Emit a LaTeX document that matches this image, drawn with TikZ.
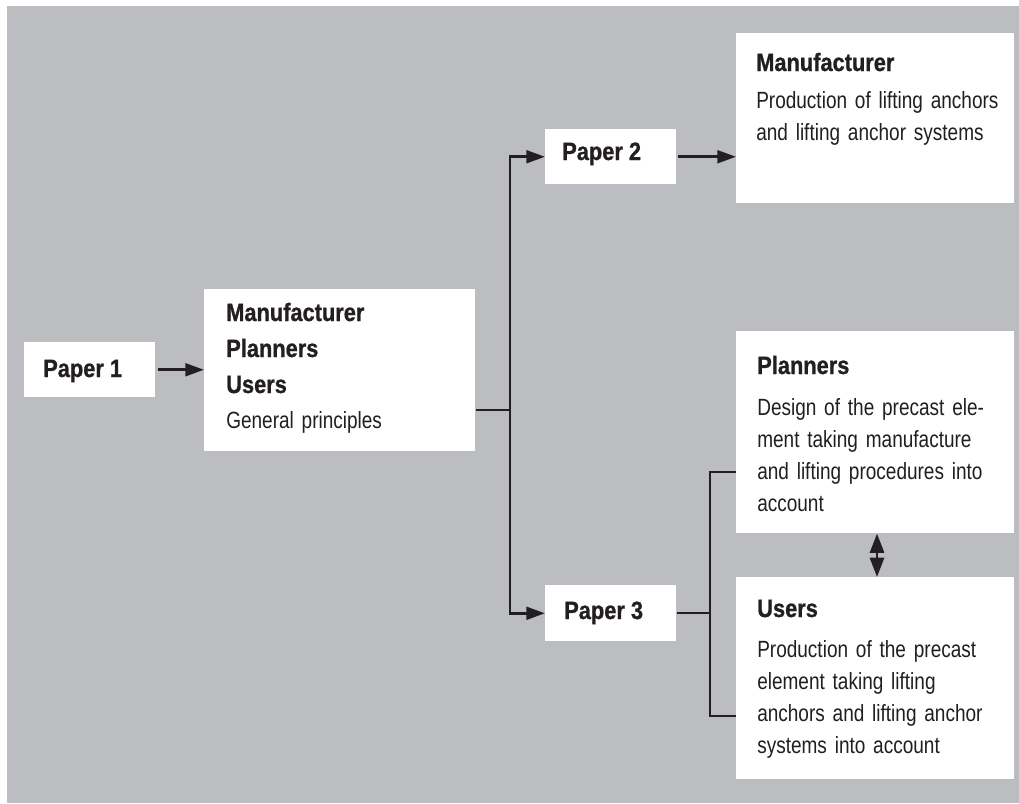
\documentclass[tikz,border=0pt]{standalone}
\usepackage{fontspec}
\setmainfont{Liberation Sans}
\newfontfamily\hdfont{Liberation Sans}[FakeStretch=0.87, BoldFeatures={FakeBold=0.9}]
\newfontfamily\bdfont{Liberation Sans}[FakeStretch=0.81]
\usetikzlibrary{arrows.meta}
\definecolor{bg}{HTML}{BCBDC1}
\definecolor{ink}{HTML}{231F20}
\tikzset{
  box/.style={fill=white, draw=none, inner sep=0pt, anchor=north west},
  hd/.style={anchor=base west, inner sep=0pt, text=ink, font=\hdfont\bfseries\fontsize{18.8}{27}\selectfont},
  bd/.style={anchor=base west, inner sep=0pt, text=ink, font=\bdfont\fontsize{17.6}{24}\selectfont, text width=205pt, align=left},
  conn/.style={draw=ink, line width=2.2pt},
  arr/.style={conn, -{Triangle[length=14pt,width=9.5pt]}},
  dbl/.style={conn, {Triangle[length=14.5pt,width=10.5pt]}-{Triangle[length=14.5pt,width=10.5pt]}},
}
\begin{document}
\begin{tikzpicture}[x=0.75pt, y=-0.75pt]
\useasboundingbox (0,0) rectangle (1019,803);
\fill[bg] (7,6) rectangle (1019,803);

% boxes
\node[box, minimum width=98.25pt, minimum height=41.25pt] (p1) at (24,342) {};
\node[box, minimum width=203.25pt, minimum height=121.5pt] (c) at (204,289) {};
\node[box, minimum width=98.25pt, minimum height=41.25pt] (p2) at (545,129) {};
\node[box, minimum width=98.25pt, minimum height=42pt] (p3) at (545,585) {};
\node[box, minimum width=208.5pt, minimum height=127.5pt] (m) at (736,33) {};
\node[box, minimum width=208.5pt, minimum height=151.5pt] (pl) at (736,331) {};
\node[box, minimum width=208.5pt, minimum height=151.5pt] (us) at (736,577) {};

% texts
\node[hd] (p1t) at (43,377) {Paper 1};
\node[hd] (p2t) at (562,160) {Paper 2};
\node[hd] (p3t) at (564,619) {Paper 3};

\node[hd] (ct1) at (226,321) {Manufacturer};
\node[hd] (ct2) at (226,357) {Planners};
\node[hd] (ct3) at (226,393) {Users};
\node[bd] (ct4) at (226,428) {General principles};

\node[hd] (mt) at (756,71) {Manufacturer};
\node[bd] (mb) at (756,108) {Production of lifting anchors\\and lifting anchor systems};

\node[hd] (plt) at (757,374) {Planners};
\node[bd] (plb) at (757,415) {Design of the precast ele-\\ment taking manufacture\\and lifting procedures into\\account};

\node[hd] (ust) at (757,617) {Users};
\node[bd] (usb) at (757,657) {Production of the precast\\element taking lifting\\anchors and lifting anchor\\systems into account};

% connectors
\coordinate (j1) at (510,410);
\coordinate (j2) at (710,613);
\coordinate (t1) at (736,472);
\coordinate (t2) at (736,716);
\coordinate (dx) at (877,0);

\draw[arr, shorten <=1.5pt] (p1.east) -- (c.west |- p1.east);
\draw[conn] (c.east |- j1) -- (j1);
\draw[arr] (j1) |- (p2.west);
\draw[arr] (j1) |- (p3.west);
\draw[arr, shorten <=1pt] (p2.east) -- (m.west |- p2.east);
\draw[conn] (p3.east |- j2) -- (j2);
\draw[conn] (t1) -| (j2) |- (t2);
\draw[dbl] (pl.south -| dx) -- (us.north -| dx);
\end{tikzpicture}
\end{document}
